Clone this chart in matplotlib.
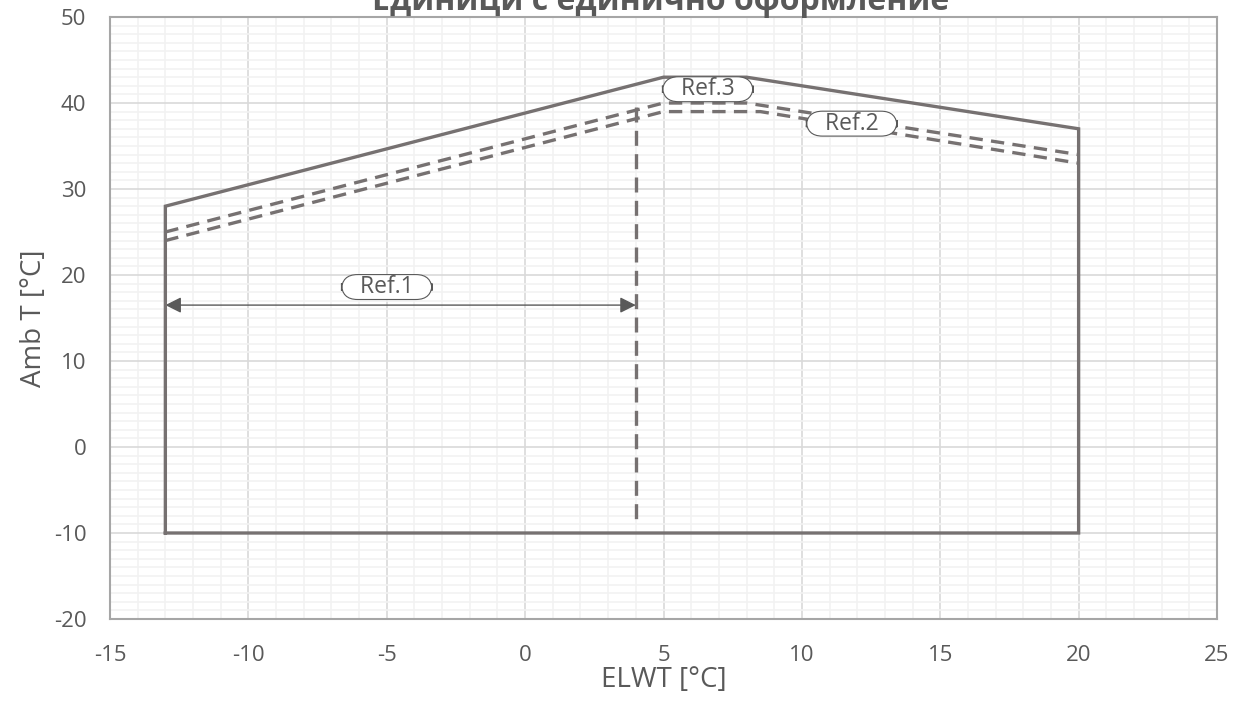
import matplotlib.pyplot as plt
from matplotlib.patches import FancyArrowPatch

plt.rcParams['font.family'] = ['Open Sans', 'DejaVu Sans']
plt.rcParams['axes.unicode_minus'] = False

# envelope (solid)
env_x = [-13, -13, 5, 8, 20, 20, -13]
env_y = [-10, 28, 43, 43, 37, -10, -10]

# Ref.3 dashed
ref3_x = [-13, 5, 8, 20]
ref3_y = [25, 40, 40, 34]

# Ref.2 dashed
ref2_x = [-13, 5, 8.5, 20]
ref2_y = [24, 39, 39, 33]

# Ref.1 vertical limit
ref1_x = [4, 4]
ref1_y = [39.5, -9]
arrow_y = 16.5

labels = ['Ref.1', 'Ref.3', 'Ref.2']
label_x = [-5, 6.6, 11.8]
label_y = [18.6, 41.6, 37.6]

col = '#767171'

fig = plt.figure(figsize=(12.41, 7.02), dpi=100)
ax = fig.add_axes([110 / 1241, 1 - 619 / 702, (1217 - 110) / 1241, (619 - 17) / 702])

ax.plot(env_x, env_y, color=col, lw=2.4, solid_joinstyle='miter')
ax.plot(ref3_x, ref3_y, color=col, lw=2.4, dashes=(4, 2.5))
ax.plot(ref2_x, ref2_y, color=col, lw=2.4, dashes=(4, 2.5))
ax.plot(ref1_x, ref1_y, color=col, lw=2.4, dashes=(4.5, 2.5))

arr = FancyArrowPatch((-13, arrow_y), (4, arrow_y), arrowstyle='<|-|>',
                      mutation_scale=24, color='#595959', lw=1, shrinkA=0, shrinkB=0)
ax.add_patch(arr)

for t, x, y in zip(labels, label_x, label_y):
    ax.text(x, y, '   ' + t + '   ', ha='center', va='center', fontsize=16.5, color='#595959',
            bbox=dict(boxstyle='round,pad=0.02,rounding_size=0.7', fc='white', ec='#595959', lw=0.8))

ax.set_xlim(-15, 25)
ax.set_ylim(-20, 50)
ax.set_xticks(range(-15, 26, 5))
ax.set_yticks(range(-20, 51, 10))
ax.set_xticks([v for v in range(-15, 26) if v % 5], minor=True)
ax.set_yticks([v for v in range(-20, 51) if v % 10], minor=True)
ax.grid(which='major', color='#d9d9d9', lw=1.2)
ax.grid(which='minor', color='#f2f2f2', lw=1.2)
ax.set_axisbelow(True)
ax.tick_params(which='both', length=0, labelsize=16, labelcolor='#595959')
ax.tick_params(axis='x', pad=19)
ax.tick_params(axis='y', pad=17)
for s in ax.spines.values():
    s.set_color('#a6a6a6')
    s.set_linewidth(1.5)

ax.set_xlabel('ELWT [°C]', fontsize=20, color='#595959', labelpad=0)
ax.set_ylabel('Amb T [°C]', fontsize=20, color='#595959', labelpad=4)
fig.text(0.532, 1 - 10 / 702, 'Единици с единично оформление', ha='center', va='baseline',
         fontsize=23, fontweight='bold', color='#595959')

fig.savefig('out.png', dpi=100)
